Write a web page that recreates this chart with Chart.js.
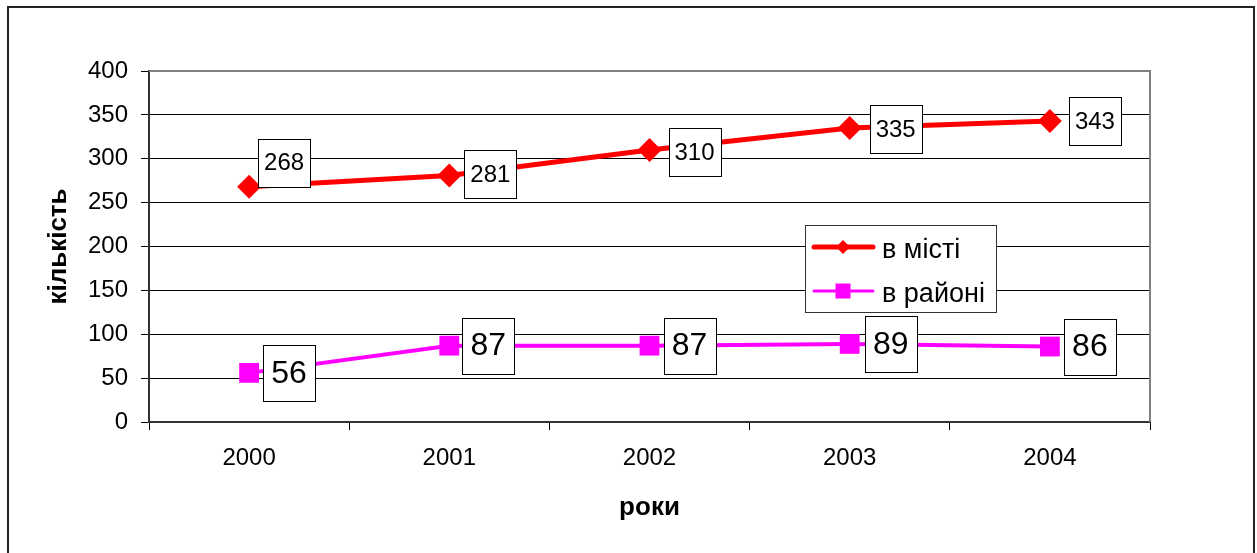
<!DOCTYPE html>
<html><head><meta charset="utf-8">
<script src="https://cdn.jsdelivr.net/npm/chart.js@4/dist/chart.umd.min.js"></script>
<style>html,body{margin:0;padding:0;background:#fff}#wrap{width:1257px;height:553px;position:relative}</style>
</head><body><div id="wrap"><canvas id="c"></canvas></div>
<script>
const years = ['2000', '2001', '2002', '2003', '2004'];
const cityValues = [268, 281, 310, 335, 343];
const districtValues = [56, 87, 87, 89, 86];
const seriesNames = ['в місті', 'в районі'];
const xTitle = 'роки';
const yTitle = 'кількість';
const yMin = 0, yMax = 400, yStep = 50;

const FONT = "'Liberation Sans', Arial, sans-serif";
// label placement (style, not data)
const labelStyle = [
  {size: 24, boxH: 48, padX: 6, offsets: [[35, -24], [41, -1], [45, 2], [46, 1], [45, 0]]},
  {size: 32, boxH: 56, padX: 8, offsets: [[40, 0], [39, 0], [40, 0], [41, 0], [40, 0]]}
];

const decor = {
  id: 'decor',
  beforeDraw(chart) {
    const {ctx, width, height} = chart;
    ctx.save(); ctx.fillStyle = '#fff'; ctx.fillRect(0, 0, width, height); ctx.restore();
  },
  beforeDatasetsDraw(chart) {
    const {ctx, chartArea: a} = chart;
    ctx.save(); ctx.strokeStyle = '#808080'; ctx.lineWidth = 2;
    ctx.beginPath(); ctx.moveTo(a.left, a.top); ctx.lineTo(a.right, a.top); ctx.lineTo(a.right, a.bottom); ctx.stroke();
    ctx.restore();
  },
  afterDatasetsDraw(chart) {
    const ctx = chart.ctx;
    ctx.save();
    chart.data.datasets.forEach((ds, i) => {
      const meta = chart.getDatasetMeta(i);
      const st = labelStyle[i];
      ctx.font = st.size + 'px ' + FONT;
      meta.data.forEach((el, j) => {
        const txt = String(ds.data[j]);
        const tw = ctx.measureText(txt).width;
        const w = Math.round(tw + 2 * st.padX), h = st.boxH;
        const cx = el.x + st.offsets[j][0], cy = el.y + st.offsets[j][1];
        const x0 = Math.round(cx - w / 2) + 0.5, y0 = Math.round(cy - h / 2) + 0.5;
        ctx.fillStyle = '#fff'; ctx.fillRect(x0, y0, w, h);
        ctx.strokeStyle = '#000'; ctx.lineWidth = 1; ctx.strokeRect(x0, y0, w, h);
        ctx.fillStyle = '#000'; ctx.textAlign = 'center'; ctx.textBaseline = 'middle';
        ctx.fillText(txt, cx, cy + 1);
      });
    });
    // legend
    const L = {x: 805, y: 225, w: 191, h: 87};
    ctx.fillStyle = '#fff'; ctx.fillRect(L.x + 0.5, L.y + 0.5, L.w, L.h);
    ctx.strokeStyle = '#333'; ctx.lineWidth = 1; ctx.strokeRect(L.x + 0.5, L.y + 0.5, L.w, L.h);
    const rows = [247, 291], bases = [258, 302];
    chart.data.datasets.forEach((ds, i) => {
      const y = rows[i];
      ctx.strokeStyle = ds.borderColor; ctx.lineWidth = i === 0 ? 5 : 3; ctx.lineCap = 'round';
      ctx.beginPath(); ctx.moveTo(814, y); ctx.lineTo(873, y); ctx.stroke();
      ctx.fillStyle = ds.backgroundColor;
      if (i === 0) {
        ctx.beginPath(); ctx.moveTo(843, y - 7); ctx.lineTo(850, y); ctx.lineTo(843, y + 7); ctx.lineTo(836, y); ctx.closePath(); ctx.fill();
      } else {
        ctx.fillRect(835.5, y - 7.5, 15, 15);
      }
      ctx.fillStyle = '#000'; ctx.font = '27px ' + FONT; ctx.textAlign = 'left'; ctx.textBaseline = 'alphabetic';
      ctx.fillText(ds.label, 882, bases[i]);
    });
    ctx.restore();
  },
  afterDraw(chart) {
    const ctx = chart.ctx;
    ctx.save(); ctx.strokeStyle = '#222'; ctx.lineWidth = 2;
    ctx.strokeRect(8, 7, 1246, 600);
    ctx.restore();
  }
};

new Chart(document.getElementById('c'), {
  type: 'line',
  data: {
    labels: years,
    datasets: [
      {label: seriesNames[0], data: cityValues, borderColor: '#ff0000', backgroundColor: '#ff0000',
       borderWidth: 5, pointStyle: 'rectRot', pointRadius: 12, pointHoverRadius: 12, pointBorderWidth: 0, tension: 0},
      {label: seriesNames[1], data: districtValues, borderColor: '#ff00ff', backgroundColor: '#ff00ff',
       borderWidth: 4, pointStyle: 'rect', pointRadius: 14, pointHoverRadius: 14, pointBorderWidth: 0, tension: 0}
    ]
  },
  options: {
    responsive: true, maintainAspectRatio: false, devicePixelRatio: 1, animation: false,
    layout: {padding: {left: 0, top: 71, right: 107, bottom: 0}},
    plugins: {legend: {display: false}, tooltip: {enabled: false}},
    scales: {
      x: {
        type: 'category', offset: true,
        grid: {offset: true, drawOnChartArea: false, tickLength: 8, color: '#000', lineWidth: 1},
        border: {color: '#333', width: 2},
        ticks: {color: '#000', font: {family: FONT, size: 24}, padding: 14, maxRotation: 0},
        title: {display: true, text: xTitle, color: '#000', font: {family: FONT, size: 26, weight: 'bold'}, padding: {top: 0, bottom: 30}},
        afterFit(s) { s.height = 131; }
      },
      y: {
        min: yMin, max: yMax,
        grid: {color: '#000', lineWidth: 1, tickLength: 8},
        border: {color: '#333', width: 2},
        ticks: {stepSize: yStep, color: '#000', font: {family: FONT, size: 24}, padding: 13},
        title: {display: true, text: yTitle, color: '#000', font: {family: FONT, size: 26, weight: 'bold'}, padding: {top: 43, bottom: 0}},
        afterFit(s) { s.width = 149; }
      }
    }
  },
  plugins: [decor]
});
</script>
</body></html>
